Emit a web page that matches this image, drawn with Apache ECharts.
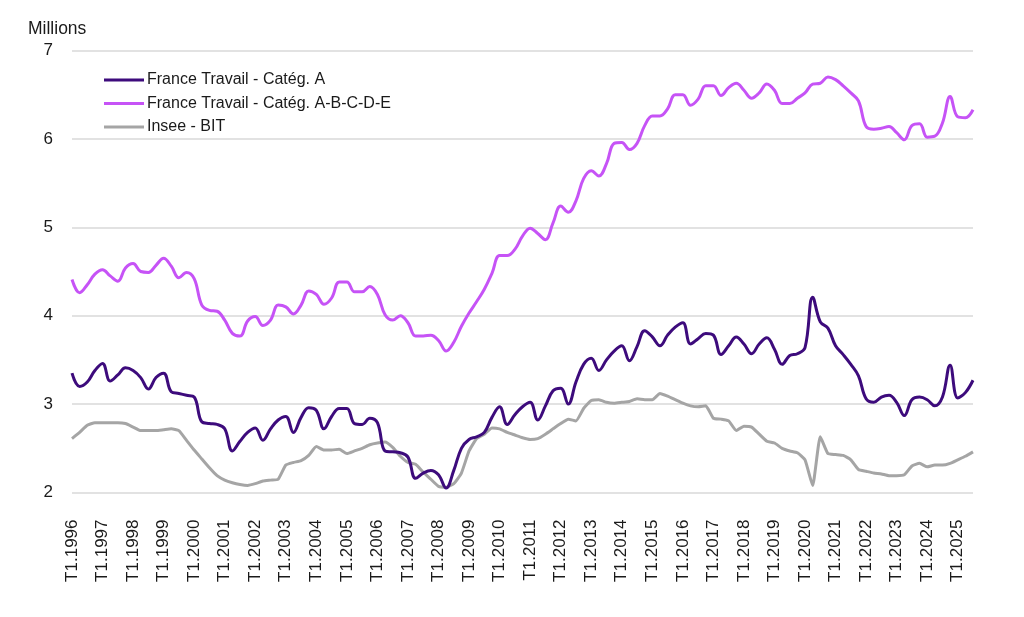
<!DOCTYPE html>
<html>
<head>
<meta charset="utf-8">
<script src="https://cdn.jsdelivr.net/npm/echarts@6/dist/echarts.min.js"></script>
<style>
html,body{margin:0;padding:0;background:#fff;}
#chart{width:1024px;height:617px;}
</style>
</head>
<body>
<div id="chart"></div>
<script>
// Quarters from T1.1996 to T3.2025
const startYear = 1996, endYear = 2025, lastQuarter = 3;
const quarters = [];
for (let y = startYear; y <= endYear; y++) {
  for (let q = 1; q <= 4; q++) {
    if (y === endYear && q > lastQuarter) break;
    quarters.push('T' + q + '.' + y);
  }
}

const yTicks = [2, 3, 4, 5, 6, 7];
const unitLabel = 'Millions';
const seriesNames = ['France Travail - Catég. A', 'France Travail - Catég. A-B-C-D-E', 'Insee - BIT'];

// France Travail - Catég. A (millions)
const catA = [
  3.35, 3.20, 3.25, 3.38,   // 1996
  3.46, 3.26, 3.33, 3.41,   // 1997
  3.38, 3.30, 3.17, 3.30,   // 1998
  3.35, 3.14, 3.12, 3.10,   // 1999
  3.08, 2.80, 2.78, 2.77,   // 2000
  2.72, 2.47, 2.58, 2.68,   // 2001
  2.73, 2.59, 2.72, 2.82,   // 2002
  2.86, 2.68, 2.85, 2.96,   // 2003
  2.93, 2.72, 2.86, 2.95,   // 2004
  2.95, 2.78, 2.77, 2.84,   // 2005
  2.79, 2.47, 2.46, 2.45,   // 2006
  2.40, 2.16, 2.22, 2.25,   // 2007
  2.20, 2.05, 2.25, 2.50,   // 2008
  2.60, 2.63, 2.68, 2.85,   // 2009
  2.97, 2.77, 2.88, 2.97,   // 2010
  3.02, 2.82, 2.98, 3.15,   // 2011
  3.18, 3.00, 3.25, 3.45,   // 2012
  3.52, 3.38, 3.50, 3.60,   // 2013
  3.66, 3.49, 3.65, 3.83,   // 2014
  3.76, 3.66, 3.78, 3.87,   // 2015
  3.92, 3.68, 3.74, 3.80,   // 2016
  3.78, 3.56, 3.66, 3.76,   // 2017
  3.68, 3.57, 3.68, 3.75,   // 2018
  3.62, 3.45, 3.55, 3.57,   // 2019
  3.64, 4.21, 3.93, 3.86,   // 2020
  3.66, 3.56, 3.45, 3.32,   // 2021
  3.06, 3.02, 3.08, 3.10,   // 2022
  3.02, 2.87, 3.05, 3.08,   // 2023
  3.05, 2.98, 3.08, 3.44,   // 2024
  3.07, 3.13, 3.27          // 2025
];

// France Travail - Catég. A-B-C-D-E (millions)
const catABCDE = [
  4.41, 4.26, 4.35, 4.47,   // 1996
  4.52, 4.45, 4.39, 4.54,   // 1997
  4.59, 4.50, 4.49, 4.57,   // 1998
  4.65, 4.56, 4.43, 4.49,   // 1999
  4.42, 4.12, 4.06, 4.05,   // 2000
  3.95, 3.80, 3.77, 3.94,   // 2001
  3.99, 3.89, 3.95, 4.12,   // 2002
  4.10, 4.02, 4.12, 4.28,   // 2003
  4.24, 4.13, 4.20, 4.38,   // 2004
  4.38, 4.27, 4.27, 4.33,   // 2005
  4.24, 4.01, 3.95, 4.00,   // 2006
  3.92, 3.77, 3.77, 3.78,   // 2007
  3.72, 3.60, 3.70, 3.88,   // 2008
  4.03, 4.16, 4.30, 4.48,   // 2009
  4.68, 4.68, 4.75, 4.90,   // 2010
  4.99, 4.93, 4.86, 5.05,   // 2011
  5.24, 5.17, 5.30, 5.55,   // 2012
  5.64, 5.58, 5.72, 5.95,   // 2013
  5.96, 5.88, 5.95, 6.15,   // 2014
  6.26, 6.26, 6.34, 6.50,   // 2015
  6.50, 6.38, 6.45, 6.60,   // 2016
  6.60, 6.49, 6.58, 6.63,   // 2017
  6.55, 6.46, 6.52, 6.62,   // 2018
  6.55, 6.40, 6.40, 6.46,   // 2019
  6.52, 6.62, 6.63, 6.70,   // 2020
  6.67, 6.60, 6.52, 6.43,   // 2021
  6.14, 6.11, 6.12, 6.14,   // 2022
  6.07, 5.99, 6.15, 6.17,   // 2023
  6.02, 6.03, 6.18, 6.48,   // 2024
  6.25, 6.24, 6.33          // 2025
];

// Insee - BIT (millions)
const insee = [
  2.61, 2.68, 2.76, 2.79,   // 1996
  2.79, 2.79, 2.79, 2.78,   // 1997
  2.74, 2.70, 2.70, 2.70,   // 1998
  2.71, 2.72, 2.70, 2.59,   // 1999
  2.48, 2.38, 2.28, 2.19,   // 2000
  2.14, 2.11, 2.09, 2.08,   // 2001
  2.10, 2.13, 2.14, 2.15,   // 2002
  2.31, 2.34, 2.36, 2.42,   // 2003
  2.52, 2.48, 2.48, 2.49,   // 2004
  2.44, 2.47, 2.50, 2.54,   // 2005
  2.56, 2.57, 2.51, 2.41,   // 2006
  2.34, 2.32, 2.23, 2.15,   // 2007
  2.07, 2.06, 2.10, 2.22,   // 2008
  2.47, 2.61, 2.66, 2.73,   // 2009
  2.72, 2.68, 2.65, 2.62,   // 2010
  2.60, 2.61, 2.66, 2.72,   // 2011
  2.78, 2.83, 2.81, 2.95,   // 2012
  3.04, 3.05, 3.02, 3.01,   // 2013
  3.02, 3.03, 3.06, 3.05,   // 2014
  3.05, 3.12, 3.09, 3.05,   // 2015
  3.01, 2.98, 2.97, 2.98,   // 2016
  2.84, 2.83, 2.81, 2.70,   // 2017
  2.75, 2.74, 2.66, 2.58,   // 2018
  2.56, 2.50, 2.47, 2.45,   // 2019
  2.37, 2.08, 2.63, 2.44,   // 2020
  2.43, 2.42, 2.37, 2.26,   // 2021
  2.24, 2.22, 2.21, 2.19,   // 2022
  2.19, 2.20, 2.30, 2.33,   // 2023
  2.29, 2.31, 2.31, 2.33,   // 2024
  2.37, 2.41, 2.46          // 2025
];

const colors = ['#3d0b7c', '#c653f6', '#a5a5a5'];
const font = '"Liberation Sans", Arial, sans-serif';

const chart = echarts.init(document.getElementById('chart'), null, {renderer: 'canvas'});
chart.setOption({
  animation: false,
  backgroundColor: '#ffffff',
  color: colors,
  textStyle: {fontFamily: font},
  title: {
    text: unitLabel, left: 23, top: 15,
    textStyle: {fontFamily: font, fontSize: 17.5, fontWeight: 'normal', color: '#1a1a1a'}
  },
  legend: {
    orient: 'vertical', left: 99, top: 67,
    itemWidth: 40, itemHeight: 3, itemGap: 7.5,
    icon: 'rect',
    data: seriesNames,
    textStyle: {fontFamily: font, fontSize: 16, color: '#1a1a1a', padding: [0, 0, 0, -2]}
  },
  grid: {left: 72, right: 51, top: 50.5, bottom: 124.5, containLabel: false},
  xAxis: {
    type: 'category',
    data: quarters,
    boundaryGap: false,
    axisLine: {show: false},
    axisTick: {show: false},
    splitLine: {show: false},
    axisLabel: {
      rotate: 90,
      margin: 27,
      fontSize: 17,
      color: '#1a1a1a',
      fontFamily: font,
      interval: function (idx, val) { return val.indexOf('T1.') === 0; }
    }
  },
  yAxis: {
    type: 'value',
    min: yTicks[0], max: yTicks[yTicks.length - 1], interval: 1,
    axisLine: {show: false},
    axisTick: {show: false},
    axisLabel: {fontSize: 17, color: '#1a1a1a', margin: 19, fontFamily: font},
    splitLine: {lineStyle: {color: '#d9d9d9', width: 1.5}}
  },
  series: [
    {name: seriesNames[0], type: 'line', data: catA, smooth: 0.4, showSymbol: false,
     lineStyle: {width: 3, color: colors[0]}, z: 4},
    {name: seriesNames[1], type: 'line', data: catABCDE, smooth: 0.4, showSymbol: false,
     lineStyle: {width: 3, color: colors[1]}, z: 3},
    {name: seriesNames[2], type: 'line', data: insee, smooth: 0.15, showSymbol: false,
     lineStyle: {width: 3, color: colors[2]}, z: 2}
  ]
});
</script>
</body>
</html>
